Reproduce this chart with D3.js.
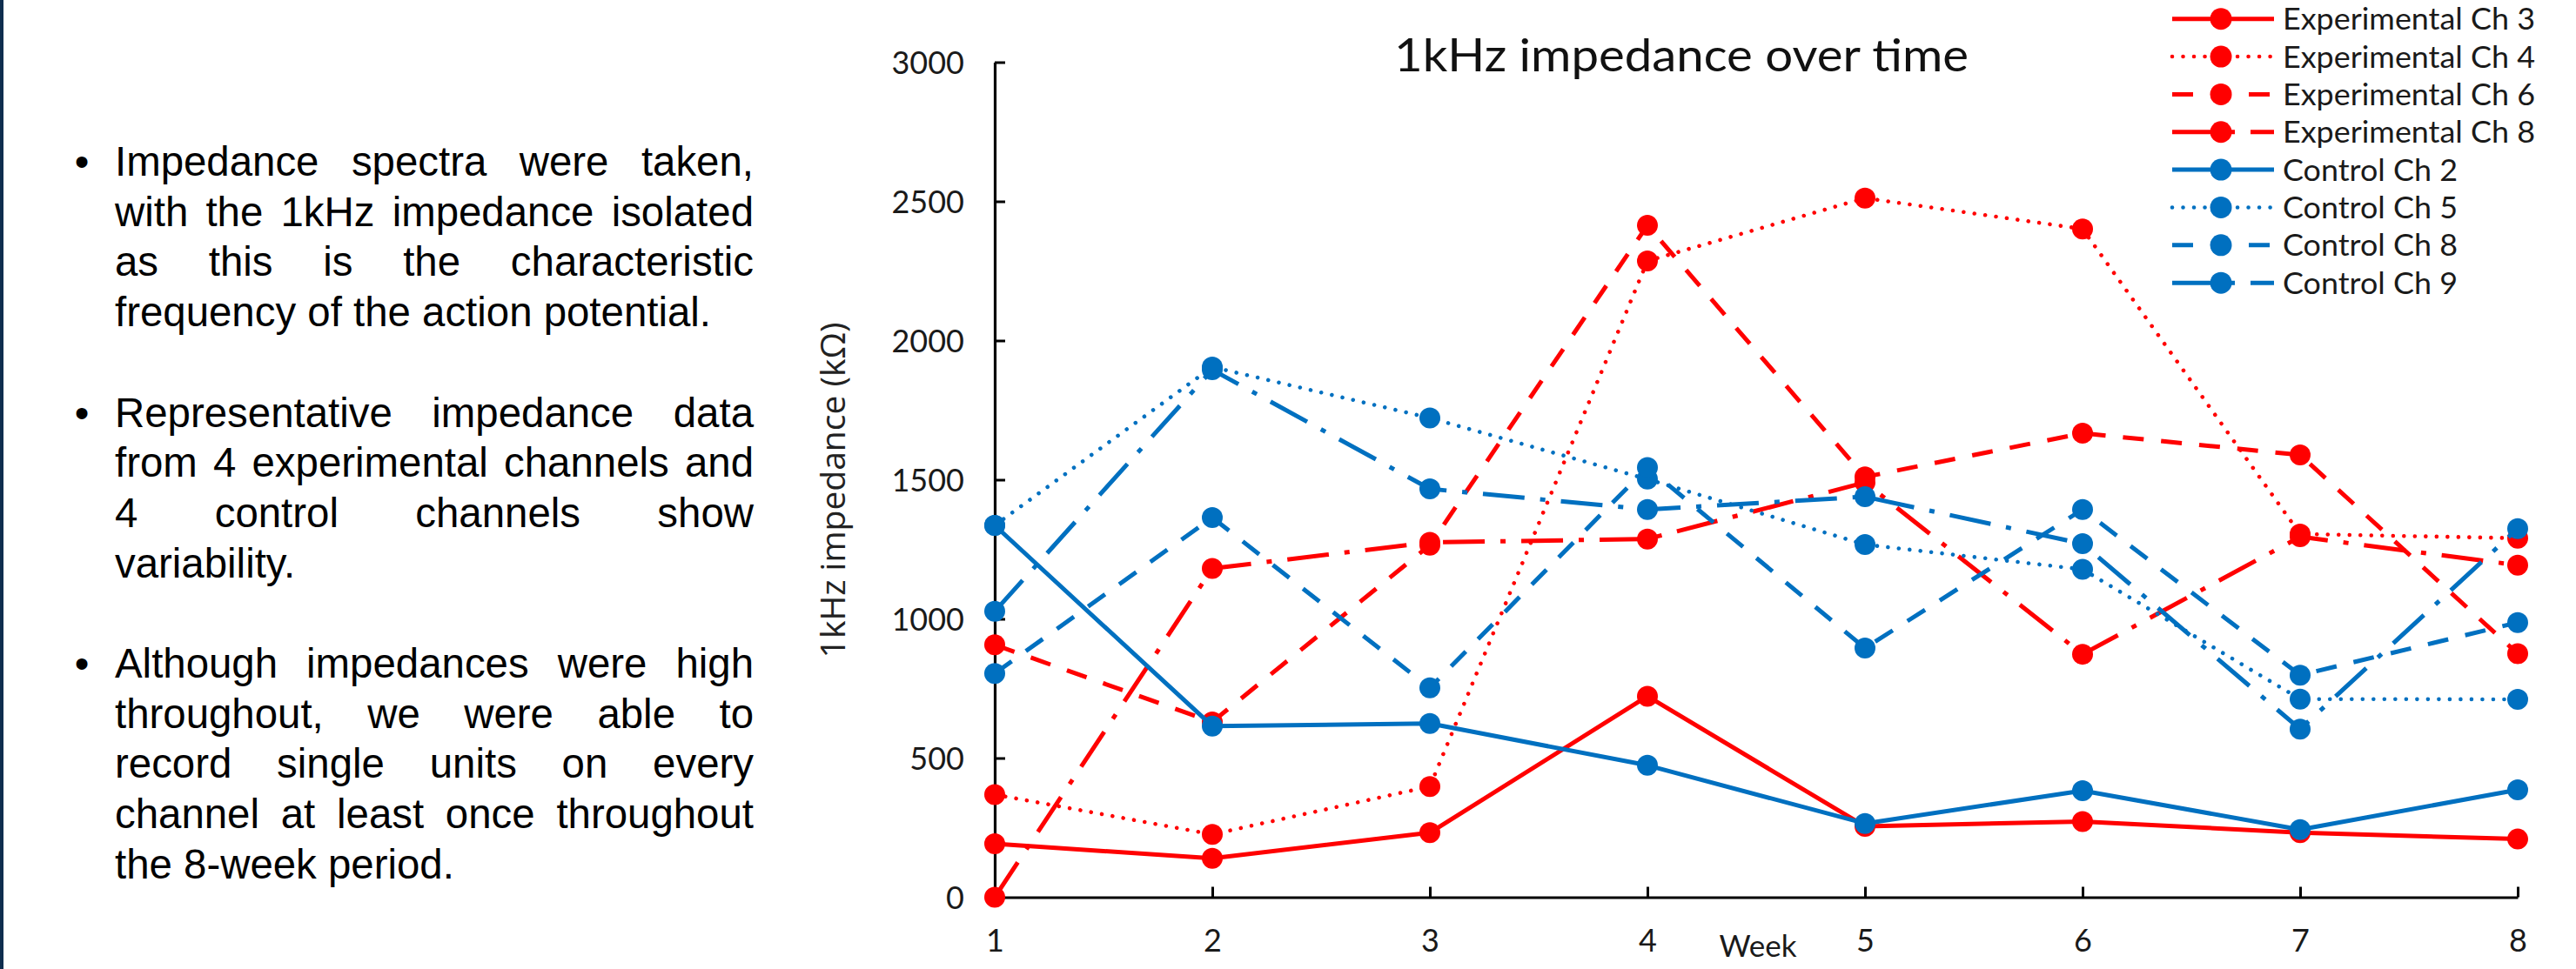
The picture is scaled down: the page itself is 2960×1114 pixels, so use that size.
<!DOCTYPE html>
<html><head><meta charset="utf-8">
<script src="https://cdn.jsdelivr.net/npm/d3@7"></script>
<style>html,body{margin:0;padding:0;background:#fff;overflow:hidden}</style>
</head><body>
<svg id="c" width="2960" height="1114"></svg>
<script>
// ---------- data ----------
const weeks = [1, 2, 3, 4, 5, 6, 7, 8];
const expCh3 = [192, 140, 232, 722, 255, 272, 232, 209];
const expCh4 = [369, 226, 398, 2286, 2512, 2401, 1305, 1290];
const expCh6 = [907, 630, 1265, 2414, 1510, 1667, 1589, 875];
const expCh8 = [0, 1181, 1275, 1287, 1490, 873, 1295, 1193];
const ctlCh2 = [1336, 615, 624, 474, 265, 383, 243, 386];
const ctlCh5 = [1336, 1905, 1722, 1502, 1267, 1178, 712, 711];
const ctlCh8 = [804, 1364, 752, 1544, 895, 1393, 798, 987];
const ctlCh9 = [1027, 1895, 1467, 1393, 1439, 1270, 604, 1324];
const seriesNames = ["Experimental Ch 3", "Experimental Ch 4", "Experimental Ch 6", "Experimental Ch 8",
                     "Control Ch 2", "Control Ch 5", "Control Ch 8", "Control Ch 9"];
const seriesValues = [expCh3, expCh4, expCh6, expCh8, ctlCh2, ctlCh5, ctlCh8, ctlCh9];
const seriesGroup = ["exp", "exp", "exp", "exp", "ctl", "ctl", "ctl", "ctl"];
const seriesDash = ["solid", "dot", "dash", "longDashDot", "solid", "dot", "dash", "longDashDot"];
const yTickValues = [0, 500, 1000, 1500, 2000, 2500, 3000];
const chartTitle = "1kHz impedance over time";
const yAxisTitle = "1kHz impedance (kΩ)";
const xAxisTitle = "Week";
const bulletParagraphs = [
  ["Impedance spectra were taken,", "with the 1kHz impedance isolated", "as this is the characteristic", "frequency of the action potential."],
  ["Representative impedance data", "from 4 experimental channels and", "4 control channels show", "variability."],
  ["Although impedances were high", "throughout, we were able to", "record single units on every", "channel at least once throughout", "the 8-week period."]
];

// ---------- styles ----------
const colors = { exp: "#FF0000", ctl: "#0070C0" };
const dashArr = { solid: null, dot: "0.01 12.5", dash: "24 20", longDashDot: "48 18 6 18" };
const lineW = { solid: 5, dot: 4.6, dash: 5, longDashDot: 5 };
const calibriLike = "Lato, 'Noto Sans', sans-serif";

const svg = d3.select("#c");
const W = 2960, H = 1114;
svg.append("rect").attr("width", W).attr("height", H).attr("fill", "#fff");
svg.append("rect").attr("x", 0).attr("y", 0).attr("width", 4).attr("height", H).attr("fill", "#0f2d4e");

// ---------- left bullet text (justified) ----------
const textFont = "'Liberation Sans', Arial, sans-serif";
const textSize = 47.4, lineStep = 57.7, firstBase = 202, textLeft = 132, textRight = 866;
const tg = svg.append("g").attr("font-family", textFont).attr("font-size", textSize).attr("fill", "#000");
const meas = svg.append("text").attr("font-family", textFont).attr("font-size", textSize).attr("x", -9999).attr("y", -9999);
function wWidth(s) { meas.text(s); return meas.node().getComputedTextLength(); }
let li = 0;
bulletParagraphs.forEach((para) => {
  const b0 = firstBase + li * lineStep;
  tg.append("text").attr("x", 94).attr("y", b0).attr("text-anchor", "middle").text("•");
  para.forEach((line, j) => {
    const yb = firstBase + li * lineStep;
    const t = tg.append("text").attr("y", yb);
    const isLast = j === para.length - 1;
    if (isLast) {
      t.attr("x", textLeft).text(line);
    } else {
      const words = line.split(" ");
      const widths = words.map(wWidth);
      const gap = (textRight - textLeft - d3.sum(widths)) / (words.length - 1);
      let cx = textLeft;
      words.forEach((w, i) => {
        t.append("tspan").attr("x", cx).text(w + (i < words.length - 1 ? " " : ""));
        cx += widths[i] + gap;
      });
    }
    li++;
  });
  li++;
});
meas.remove();

// ---------- chart ----------
const x = d3.scaleLinear().domain([1, 8]).range([1143, 2893]);
const y = d3.scaleLinear().domain([0, 3000]).range([1031.5, 71.5]);

const axisColor = "#000";
const gy = svg.append("g").attr("transform", `translate(${x(1)},0)`)
  .call(d3.axisLeft(y).tickValues(yTickValues).tickSizeInner(-12).tickSizeOuter(0).tickPadding(35).tickFormat(d3.format("d")));
const gx = svg.append("g").attr("transform", `translate(0,${y(0)})`)
  .call(d3.axisBottom(x).tickValues(weeks).tickSizeInner(-12).tickSizeOuter(0).tickFormat(d3.format("d")));
[gy, gx].forEach(g => {
  g.select(".domain").attr("stroke", axisColor).attr("stroke-width", 3.2);
  g.selectAll(".tick line").attr("stroke", axisColor).attr("stroke-width", 3);
  g.selectAll(".tick text").attr("fill", "#1a1a1a").attr("font-family", calibriLike).attr("font-size", 36);
  g.attr("font-family", null).attr("font-size", null);
});
gy.selectAll(".tick text").attr("dy", "0.36em");
gx.selectAll(".tick text").attr("y", 1094 - 1031.5).attr("dy", 0);

// series
const lineGen = d3.line().x((d, i) => x(weeks[i])).y(d => y(d));
const sg = svg.append("g");
seriesValues.forEach((vals, si) => {
  const col = colors[seriesGroup[si]];
  const ds = seriesDash[si];
  const g = sg.append("g");
  g.append("path").datum(vals).attr("d", lineGen).attr("fill", "none")
    .attr("stroke", col).attr("stroke-width", lineW[ds])
    .attr("stroke-dasharray", dashArr[ds])
    .attr("stroke-linecap", ds === "dot" ? "round" : "butt")
    .attr("stroke-linejoin", "round");
  g.selectAll("circle").data(vals).join("circle")
    .attr("cx", (d, i) => x(weeks[i])).attr("cy", d => y(d)).attr("r", 12).attr("fill", col);
});

// title
svg.append("text").attr("x", 1602).attr("y", 82).attr("font-family", calibriLike).attr("font-size", 51.5)
  .attr("fill", "#111").attr("textLength", 660).attr("lengthAdjust", "spacingAndGlyphs").text(chartTitle);

// axis titles
svg.append("text").attr("transform", "translate(971,563.5) rotate(-90)").attr("text-anchor", "middle")
  .attr("font-family", "'Open Sans', 'Noto Sans', sans-serif").attr("font-size", 39).attr("fill", "#222").text(yAxisTitle);
svg.append("text").attr("x", (x(1) + x(8)) / 2 + 2).attr("y", 1100).attr("text-anchor", "middle")
  .attr("font-family", calibriLike).attr("font-size", 35).attr("fill", "#1a1a1a").text(xAxisTitle);

// legend
const lg = svg.append("g");
const legY0 = 21.7, legStep = 43.35;
const legTexts = [];
seriesNames.forEach((name, si) => {
  const col = colors[seriesGroup[si]];
  const ds = seriesDash[si];
  const yy = legY0 + si * legStep;
  lg.append("line").attr("x1", 2496).attr("x2", 2613).attr("y1", yy).attr("y2", yy)
    .attr("stroke", col).attr("stroke-width", lineW[ds])
    .attr("stroke-dasharray", dashArr[ds]).attr("stroke-linecap", ds === "dot" ? "round" : "butt");
  lg.append("circle").attr("cx", 2552).attr("cy", yy).attr("r", 12.5).attr("fill", col);
  const t = lg.append("text").attr("x", 2623).attr("y", yy + 12.5).attr("font-family", calibriLike)
    .attr("font-size", 35).attr("fill", "#1a1a1a").text(name);
  legTexts.push(t);
});
const refW = legTexts[0].node().getComputedTextLength();
const k = 290 / refW;
legTexts.forEach(t => {
  const w = t.node().getComputedTextLength();
  t.attr("textLength", w * k).attr("lengthAdjust", "spacingAndGlyphs");
});
</script>
</body></html>
